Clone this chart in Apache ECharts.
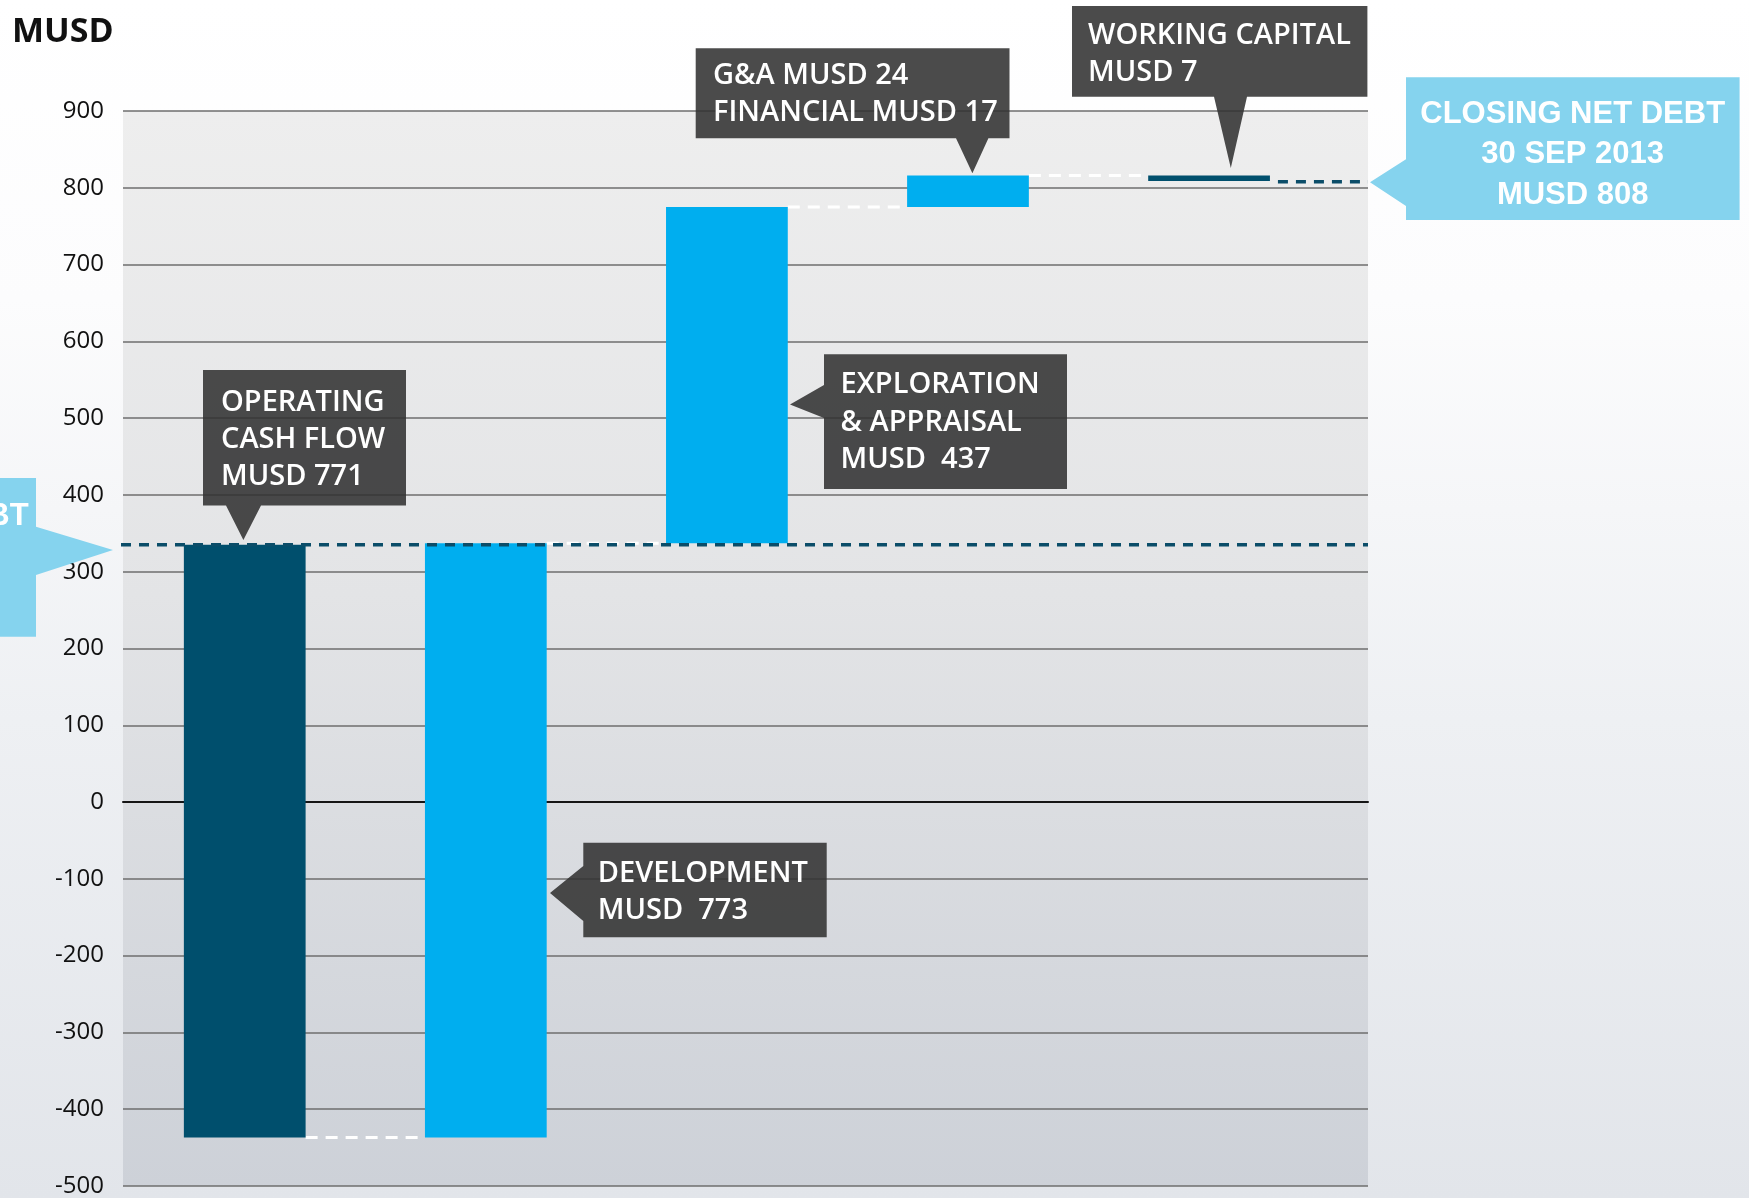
<!DOCTYPE html>
<html><head><meta charset="utf-8"><title>Net debt bridge</title>
<script src="https://cdn.jsdelivr.net/npm/echarts@6/dist/echarts.min.js"></script>
<style>
html,body{margin:0;padding:0;}
body{width:1749px;height:1198px;overflow:hidden;background:linear-gradient(180deg,#ffffff 0%,#fcfcfd 25%,#eef0f3 60%,#e2e5ea 100%);}
#chart{width:1749px;height:1198px;}
</style></head><body><div id="chart"></div>
<script>
// ---- data ----
const categories = ['Operating cash flow', 'Development', 'Exploration & appraisal', 'G&A and financial', 'Working capital'];
const openingNetDebt = 336;
const changes = [-771, 773, 437, 41, -7];
const closingNetDebt = 808;
const yMin = -500, yMax = 900, yStep = 100;
const calloutLabels = ['OPERATING\nCASH FLOW\nMUSD 771', 'DEVELOPMENT\nMUSD  773', 'EXPLORATION\n& APPRAISAL\nMUSD  437', 'G&A MUSD 24\nFINANCIAL MUSD 17', 'WORKING CAPITAL\nMUSD 7'];
const closingLabel = 'CLOSING NET DEBT\n30 SEP 2013\nMUSD 808';
const openingLabel = 'OPENING NET DEBT';

// ---- derived waterfall ----
const starts = [], ends = [];
let run = openingNetDebt;
changes.forEach(c => { starts.push(run); run += c; ends.push(run); });
const barData = changes.map((c, i) => [i, Math.min(starts[i], ends[i]), Math.max(starts[i], ends[i]), c]);
const connData = ends.slice(0, -1).map((v, i) => [i, v]);

const DARK = '#004f6d', LIGHT = '#00aeef', TEAL = '#0b4d69';
const BAR_FRAC = 0.505;
const G0 = {left: 123, top: 111, width: 1245, height: 1076.5};
const G1 = {left: 124.2, top: 111, width: 1205.4, height: 1076.5};

const chart = echarts.init(document.getElementById('chart'));
chart.setOption({
  backgroundColor: 'transparent',
  animation: false,
  title: {text: 'MUSD', left: 12, top: 15.5, padding: 0,
    textStyle: {fontFamily: 'Open Sans', fontWeight: 'bold', fontSize: 34, lineHeight: 34, color: '#111'}},
  grid: [
    Object.assign({show: true, borderWidth: 0, backgroundColor: {type: 'linear', x: 0, y: 0, x2: 0, y2: 1,
      colorStops: [{offset: 0, color: '#eeeeee'}, {offset: 0.45, color: '#e3e4e6'}, {offset: 1, color: '#cdd1d8'}]}}, G0),
    Object.assign({}, G1)
  ],
  xAxis: [
    {gridIndex: 0, type: 'value', min: 0, max: 1, axisLabel: {show: false}, axisTick: {show: false}, splitLine: {show: false},
      axisLine: {show: true, onZero: true, lineStyle: {color: '#151515', width: 2}}},
    {gridIndex: 1, type: 'category', data: categories, show: false}
  ],
  yAxis: [
    {gridIndex: 0, type: 'value', min: yMin, max: yMax, interval: yStep, axisLine: {show: false}, axisTick: {show: false},
      axisLabel: {margin: 19, fontFamily: 'Open Sans', fontSize: 24, color: '#111'},
      splitLine: {lineStyle: {color: '#6e6e6e', width: 1.5}}},
    {gridIndex: 1, type: 'value', min: yMin, max: yMax, interval: yStep, show: false, splitLine: {show: false}}
  ],
  series: [
    {type: 'custom', name: 'connectors', xAxisIndex: 1, yAxisIndex: 1, data: connData, z: 2, silent: true,
      encode: {x: 0, y: 1},
      renderItem(params, api) {
        const i = api.value(0), v = api.value(1);
        const w = api.size([1, 0])[0] * BAR_FRAC;
        const a = api.coord([i, v]), b = api.coord([i + 1, v]);
        return {type: 'line', shape: {x1: a[0] + w / 2, y1: a[1], x2: b[0] - w / 2, y2: b[1]},
          style: {stroke: '#ffffff', lineWidth: 3, lineDash: [12, 8]}};
      }},
    {type: 'custom', name: 'bars', xAxisIndex: 1, yAxisIndex: 1, data: barData, z: 3,
      encode: {x: 0, y: [1, 2]},
      renderItem(params, api) {
        const i = api.value(0), lo = api.value(1), hi = api.value(2), c = api.value(3);
        const top = api.coord([i, hi]), bot = api.coord([i, lo]);
        const w = api.size([1, 0])[0] * BAR_FRAC;
        return {type: 'rect', shape: {x: top[0] - w / 2, y: top[1], width: w, height: Math.max(bot[1] - top[1], 1)},
          style: {fill: c < 0 ? DARK : LIGHT}};
      }}
  ]
});

// ---- annotations ----
const yPx = v => chart.convertToPixel({yAxisIndex: 1}, v);
const xPx = i => chart.convertToPixel({xAxisIndex: 1}, i);
const barW = G1.width / categories.length * BAR_FRAC;
const g0Right = G0.left + G0.width;
const BOX = 'rgba(50,50,50,0.88)', BLUE = '#85d3ee';
const darkFont = {fontFamily: 'Open Sans', fontWeight: 600, fontSize: 29, fill: '#ffffff', align: 'left', verticalAlign: 'top'};
const blueFont = {fontFamily: 'Liberation Sans', fontWeight: 'bold', fontSize: 31, fill: '#ffffff', align: 'center', verticalAlign: 'top', lineHeight: 40.5};

const graphics = [];
// net debt reference lines
graphics.push({type: 'line', z: 10, silent: true,
  shape: {x1: G0.left - 2, y1: yPx(openingNetDebt), x2: g0Right, y2: yPx(openingNetDebt)},
  style: {stroke: TEAL, lineWidth: 3.5, lineDash: [10, 8]}});
graphics.push({type: 'line', z: 10, silent: true,
  shape: {x1: xPx(categories.length - 1) + barW / 2 + 8, y1: yPx(closingNetDebt), x2: g0Right, y2: yPx(closingNetDebt)},
  style: {stroke: TEAL, lineWidth: 3.5, lineDash: [10, 8]}});

function callout(points, fill, text, tx, ty, font, lh) {
  graphics.push({type: 'polygon', z: 20, silent: true, shape: {points: points}, style: {fill: fill}});
  graphics.push({type: 'text', z: 21, silent: true, x: tx, y: ty,
    style: Object.assign({}, font, {text: text}, lh ? {lineHeight: lh} : {})});
}
// operating cash flow
callout([[203,370],[406,370],[406,505.5],[261,505.5],[243.4,540],[226,505.5],[203,505.5]], BOX, calloutLabels[0], 221, 384.5, darkFont, 36.8);
// development
callout([[583.3,842.7],[826.7,842.7],[826.7,937.3],[583.3,937.3],[583.3,921],[550,893],[583.3,866]], BOX, calloutLabels[1], 597.7, 854.6, darkFont, 37.4);
// exploration
callout([[824,354.3],[1067,354.3],[1067,489],[824,489],[824,418],[790,404.5],[824,385]], BOX, calloutLabels[2], 840.6, 366.3, darkFont, 37.4);
// G&A / financial
callout([[695.7,48.3],[1009.5,48.3],[1009.5,138.3],[988.4,138.3],[972.4,173.3],[956,138.3],[695.7,138.3]], BOX, calloutLabels[3], 713, 57.5, darkFont, 37);
// working capital
callout([[1072,6],[1367.4,6],[1367.4,96.7],[1247,96.7],[1230.8,168],[1214,96.7],[1072,96.7]], BOX, calloutLabels[4], 1088, 17.5, darkFont, 37);
// closing net debt
callout([[1406,77.3],[1739.6,77.3],[1739.6,220],[1406,220],[1406,206],[1370,182.3],[1406,159.3]], BLUE, closingLabel, 1572.7, 94, blueFont);
// opening net debt (mostly off the left edge)
callout([[-300,478],[36,478],[36,526.7],[113,550],[36,575],[36,636.7],[-300,636.7]], BLUE, openingLabel, -124.6, 496.5, blueFont);

chart.setOption({graphic: {elements: graphics}});
</script></body></html>
